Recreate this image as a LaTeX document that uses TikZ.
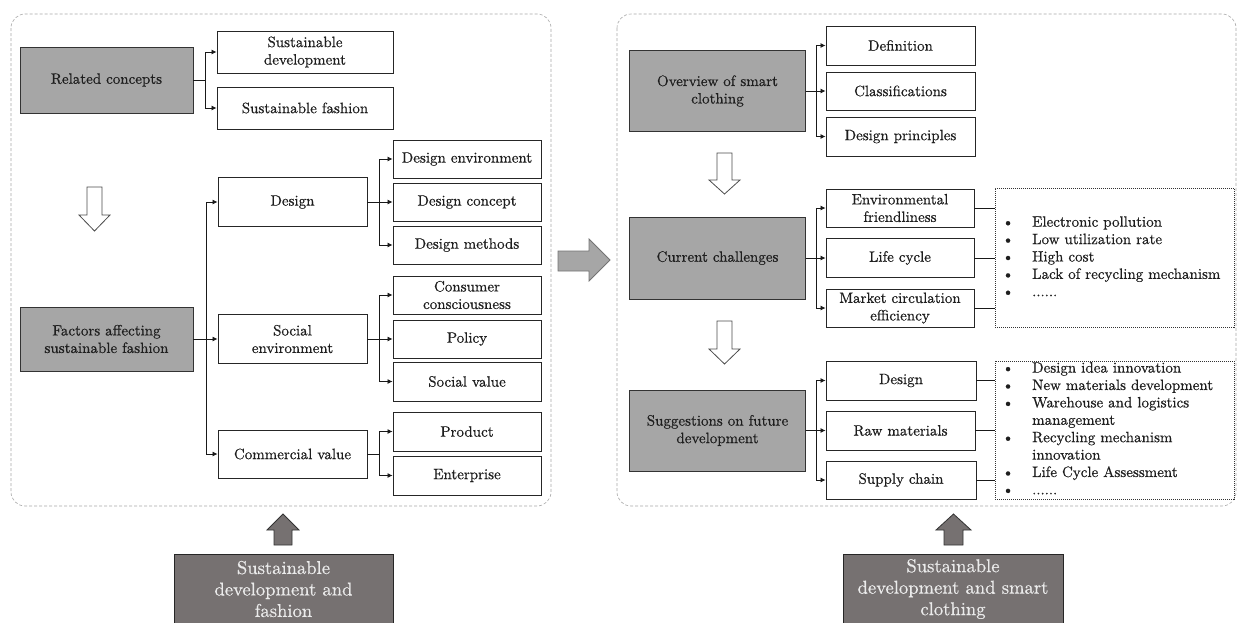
\documentclass[tikz,border=0pt]{standalone}
\usepackage{fontspec}
\setmainfont{lmroman10-regular.otf}[FakeBold=0.5, BoldFont=lmroman10-bold.otf, ItalicFont=lmroman10-italic.otf]
\usetikzlibrary{arrows.meta}
\definecolor{boxgray}{HTML}{A6A6A6}
\definecolor{darkbox}{HTML}{767171}
\definecolor{panelline}{HTML}{A8A8A8}
\definecolor{inktxt}{HTML}{1E1E1E}
\begin{document}
\begin{tikzpicture}[x=1pt,y=-1pt,
  font=\fontsize{15}{17.5}\selectfont, text=inktxt,
  gbox/.style={draw=black!80, fill=boxgray, line width=0.9pt, inner sep=0pt, align=center, minimum width=176pt},
  wbox/.style={draw=black!85, fill=white, line width=0.9pt, inner sep=0pt, align=center},
  lbox/.style={wbox, minimum width=149pt},
  rbox/.style={wbox, minimum width=148pt, minimum height=38pt},
  conn/.style={line width=0.8pt, draw=black!90},
  arr/.style={conn, -{Latex[length=5pt,width=5pt]}},
  panel/.style={draw=panelline, dash pattern=on 3pt off 2pt, rounded corners=14pt, line width=0.6pt},
  hollow/.style={draw=black!70, fill=white, line width=0.8pt},
  darr/.style={draw=black!80, fill=darkbox, line width=0.8pt},
  larr/.style={draw=black!55, fill=boxgray, line width=0.8pt},
  listbox/.style={draw=black!80, dash pattern=on 1pt off 1pt, line width=0.8pt, minimum width=239pt, inner sep=0pt},
  bottombox/.style={draw=black!85, fill=darkbox, line width=0.9pt, inner sep=0pt, align=center, text=white!92!black, font=\fontsize{18.6}{21.5}\selectfont},
  listtxt/.style={anchor=west, inner sep=0pt, align=left, font=\fontsize{15}{17.4}\selectfont}
]
\useasboundingbox (0,0) rectangle (1239,622);

% panels
\draw[panel] (11,14) rectangle (551,506);
\draw[panel] (617,14) rectangle (1236,506);

% ---------------- left panel ----------------
\node[gbox, minimum width=173pt, minimum height=66pt] (rc) at (106.5,80) {Related concepts};
\node[wbox, minimum width=176pt, minimum height=42pt] (sd) at (305,52) {Sustainable\\development};
\node[wbox, minimum width=176pt, minimum height=42pt] (sf) at (305,108) {Sustainable fashion};

\node[gbox, minimum width=173pt, minimum height=64pt] (fa) at (106.5,339) {Factors affecting\\sustainable fashion};
\node[lbox, minimum height=49pt] (de) at (292.5,202) {Design};
\node[lbox, minimum height=49pt] (se) at (292.5,339) {Social\\environment};
\node[lbox, minimum height=48pt] (cv) at (292.5,454) {Commercial value};

\node[rbox] (denv) at (467,159) {Design environment};
\node[rbox] (dcon) at (467,202) {Design concept};
\node[rbox] (dmet) at (467,245) {Design methods};
\node[rbox] (cc) at (467,295) {Consumer\\consciousness};
\node[rbox] (pol) at (467,339) {Policy};
\node[rbox, minimum height=39pt] (sv) at (467,381.5) {Social value};
\node[rbox, minimum height=39pt] (prod) at (467,431.5) {Product};
\node[rbox, minimum height=39pt] (ent) at (467,475.5) {Enterprise};

% connectors left
\coordinate (j1) at (205,80);
\draw[conn] (rc.east) -- (j1);
\draw[arr] (j1) |- (sd.west);
\draw[arr] (j1) |- (sf.west);

\coordinate (t1) at (206,339);
\draw[arr] (fa.east) -- (se.west);
\draw[arr] (t1) |- (de.west);
\draw[arr] (t1) |- (cv.west);

\coordinate (b1) at (379,202);
\draw[arr] (de.east) -- (dcon.west);
\draw[arr] (b1) |- (denv.west);
\draw[arr] (b1) |- (dmet.west);

\coordinate (b2) at (379,339);
\draw[arr] (se.east) -- (pol.west);
\draw[arr] (b2) |- (cc.west);
\draw[arr] (b2) |- (sv.west);

\coordinate (b3) at (379,454);
\draw[conn] (cv.east) -- (b3);
\draw[arr] (b3) |- (prod.west);
\draw[arr] (b3) |- (ent.west);

% hollow down arrow (left)
\draw[hollow] (87,187) -- (102,187) -- (102,215) -- (110,215) -- (94.5,231) -- (79,215) -- (87,215) -- cycle;

% ---------------- right panel ----------------
\node[gbox, minimum height=81pt] (ov) at (717.5,91) {Overview of smart\\clothing};
\node[gbox, minimum height=82pt] (cch) at (717.5,258) {Current challenges};
\node[gbox, minimum height=81pt] (sug) at (717.5,430.5) {Suggestions on future\\development};

\node[wbox, minimum width=149pt, minimum height=39pt] (def) at (900.5,45.5) {Definition};
\node[wbox, minimum width=149pt, minimum height=38pt] (cls) at (900.5,91) {Classifications};
\node[wbox, minimum width=149pt, minimum height=39pt] (dp) at (900.5,136.5) {Design principles};

\node[wbox, minimum width=148pt, minimum height=38pt] (env) at (900,208) {Environmental\\friendliness};
\node[wbox, minimum width=148pt, minimum height=39pt] (lc) at (900,258) {Life cycle};
\node[wbox, minimum width=148pt, minimum height=38pt] (mce) at (900,308) {Market circulation\\efficiency};

\node[wbox, minimum width=150pt, minimum height=39pt] (dsg) at (901,380.5) {Design};
\node[wbox, minimum width=149pt, minimum height=39pt] (raw) at (900.5,430.5) {Raw materials};
\node[wbox, minimum width=150pt, minimum height=38pt] (sc) at (901,480) {Supply chain};

\node[listbox, minimum height=139pt] (l1) at (1114.5,257.5) {};
\node[listbox, minimum height=138pt] (l2) at (1114.5,430) {};

\node[listtxt] (l1t) at (1002,258) {%
\begin{tabular}{@{}p{30pt}@{}l@{}}
\textbullet & Electronic pollution\\
\textbullet & Low utilization rate\\
\textbullet & High cost\\
\textbullet & Lack of recycling mechanism\\
\textbullet & ......
\end{tabular}};

\node[listtxt] (l2t) at (1002,430) {%
\begin{tabular}{@{}p{30pt}@{}l@{}}
\textbullet & Design idea innovation\\
\textbullet & New materials development\\
\textbullet & Warehouse and logistics\\
 & management\\
\textbullet & Recycling mechanism\\
 & innovation\\
\textbullet & Life Cycle Assessment\\
\textbullet & ......
\end{tabular}};

% connectors right
\coordinate (b4) at (816,91);
\draw[arr] (ov.east) -- (cls.west);
\draw[arr] (b4) |- (def.west);
\draw[arr] (b4) |- (dp.west);

\coordinate (b5) at (816,258);
\draw[arr] (cch.east) -- (lc.west);
\draw[arr] (b5) |- (env.west);
\draw[arr] (b5) |- (mce.west);

\coordinate (b6) at (816,430.5);
\draw[arr] (sug.east) -- (raw.west);
\draw[arr] (b6) |- (dsg.west);
\draw[arr] (b6) |- (sc.west);

\draw[conn] (env.east) -- (env.east -| l1.west);
\draw[conn] (lc.east) -- (lc.east -| l1.west);
\draw[conn] (mce.east) -- (mce.east -| l1.west);
\draw[conn] (dsg.east) -- (dsg.east -| l2.west);
\draw[conn] (raw.east) -- (raw.east -| l2.west);
\draw[conn] (sc.east) -- (sc.east -| l2.west);

% hollow down arrows (right)
\draw[hollow] (717,153) -- (732,153) -- (732,180) -- (740,180) -- (724.5,194) -- (709,180) -- (717,180) -- cycle;
\draw[hollow] (717,321) -- (732,321) -- (732,349) -- (740,349) -- (724.5,364) -- (709,349) -- (717,349) -- cycle;

% big right arrow between panels
\draw[larr] (558,251) -- (589,251) -- (589,239) -- (610,260) -- (589,281) -- (589,271) -- (558,271) -- cycle;

% ---------------- bottom ----------------
\node[bottombox, minimum width=219pt, minimum height=70pt] (bl) at (283.5,589) {Sustainable\\development and\\fashion};
\node[bottombox, minimum width=220pt, minimum height=70pt] (br) at (953,589) {Sustainable\\development and smart\\clothing};

\draw[darr] (274,545) -- (274,530) -- (267,530) -- (283,514) -- (299,530) -- (292,530) -- (292,545) -- cycle;
\draw[darr] (944,545) -- (944,530) -- (936,530) -- (953.5,514) -- (971,530) -- (963,530) -- (963,545) -- cycle;
\end{tikzpicture}
\end{document}
